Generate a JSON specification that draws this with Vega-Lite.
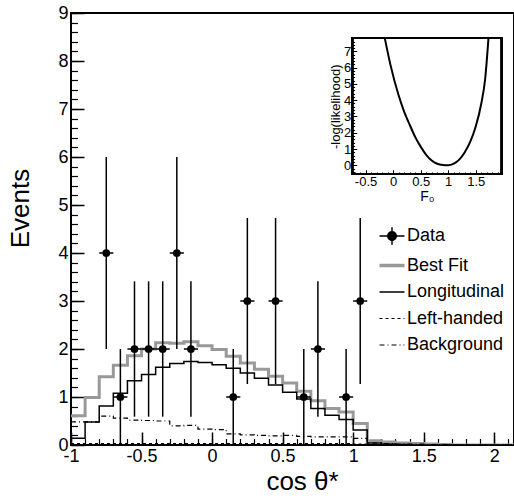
{
  "$schema": "https://vega.github.io/schema/vega-lite/v6.json",
  "width": 443,
  "height": 432,
  "autosize": "none",
  "padding": {"left": 71, "top": 13, "right": 0, "bottom": 54},
  "config": {
    "font": "Liberation Sans",
    "view": {"stroke": "black", "strokeWidth": 2},
    "axis": {"grid": false, "domain": false, "labelFlush": false, "labelFont": "Liberation Sans", "titleFont": "Liberation Sans", "labelColor": "black", "titleColor": "black", "tickColor": "black", "titleFontWeight": "normal"},
    "legend": {"labelFont": "Liberation Sans", "labelColor": "black"}
  },
  "datasets": {
    "hist": [
      {"x": -1.0, "best": 0.61, "longi": 0.14, "left": 0.03, "bkg": 0.48},
      {"x": -0.9, "best": 0.99, "longi": 0.48, "left": 0.03, "bkg": 0.48},
      {"x": -0.8, "best": 1.42, "longi": 0.81, "left": 0.03, "bkg": 0.60},
      {"x": -0.7, "best": 1.66, "longi": 1.08, "left": 0.03, "bkg": 0.56},
      {"x": -0.6, "best": 1.86, "longi": 1.34, "left": 0.03, "bkg": 0.52},
      {"x": -0.5, "best": 2.00, "longi": 1.47, "left": 0.03, "bkg": 0.51},
      {"x": -0.4, "best": 2.13, "longi": 1.62, "left": 0.03, "bkg": 0.50},
      {"x": -0.3, "best": 2.12, "longi": 1.70, "left": 0.03, "bkg": 0.40},
      {"x": -0.2, "best": 2.15, "longi": 1.74, "left": 0.03, "bkg": 0.41},
      {"x": -0.1, "best": 2.07, "longi": 1.72, "left": 0.03, "bkg": 0.33},
      {"x": 0.0, "best": 1.99, "longi": 1.67, "left": 0.03, "bkg": 0.32},
      {"x": 0.1, "best": 1.85, "longi": 1.60, "left": 0.03, "bkg": 0.23},
      {"x": 0.2, "best": 1.71, "longi": 1.50, "left": 0.03, "bkg": 0.21},
      {"x": 0.3, "best": 1.58, "longi": 1.39, "left": 0.03, "bkg": 0.20},
      {"x": 0.4, "best": 1.43, "longi": 1.25, "left": 0.03, "bkg": 0.19},
      {"x": 0.5, "best": 1.29, "longi": 1.10, "left": 0.03, "bkg": 0.20},
      {"x": 0.6, "best": 1.12, "longi": 0.96, "left": 0.03, "bkg": 0.18},
      {"x": 0.7, "best": 0.92, "longi": 0.76, "left": 0.03, "bkg": 0.17},
      {"x": 0.8, "best": 0.76, "longi": 0.62, "left": 0.03, "bkg": 0.17},
      {"x": 0.9, "best": 0.69, "longi": 0.53, "left": 0.03, "bkg": 0.17},
      {"x": 1.0, "best": 0.45, "longi": 0.31, "left": 0.02, "bkg": 0.14},
      {"x": 1.1, "best": 0.09, "longi": 0.04, "left": 0.01, "bkg": 0.04},
      {"x": 1.2, "best": 0.06, "longi": 0.02, "left": 0, "bkg": 0.03},
      {"x": 1.3, "best": 0.04, "longi": 0.01, "left": 0, "bkg": 0.02},
      {"x": 1.4, "best": 0.03, "longi": 0, "left": 0, "bkg": 0.02},
      {"x": 1.5, "best": 0.02, "longi": 0, "left": 0, "bkg": 0.01},
      {"x": 1.6, "best": 0.01, "longi": 0, "left": 0, "bkg": 0.01},
      {"x": 1.7, "best": 0, "longi": 0, "left": 0, "bkg": 0},
      {"x": 1.8, "best": 0, "longi": 0, "left": 0, "bkg": 0},
      {"x": 1.9, "best": 0, "longi": 0, "left": 0, "bkg": 0},
      {"x": 2.0, "best": 0, "longi": 0, "left": 0, "bkg": 0},
      {"x": 2.1, "best": 0, "longi": 0, "left": 0, "bkg": 0},
      {"x": 2.2, "best": 0, "longi": 0, "left": 0, "bkg": 0}
    ],
    "pts": [
      {"x": -0.75, "n": 4, "lo": 2, "hi": 6, "x0": -0.8, "x1": -0.7, "s": "data"},
      {"x": -0.65, "n": 1, "lo": 0, "hi": 2, "x0": -0.7, "x1": -0.6, "s": "data"},
      {"x": -0.55, "n": 2, "lo": 0.59, "hi": 3.41, "x0": -0.6, "x1": -0.5, "s": "data"},
      {"x": -0.45, "n": 2, "lo": 0.59, "hi": 3.41, "x0": -0.5, "x1": -0.4, "s": "data"},
      {"x": -0.35, "n": 2, "lo": 0.59, "hi": 3.41, "x0": -0.4, "x1": -0.3, "s": "data"},
      {"x": -0.25, "n": 4, "lo": 2, "hi": 6, "x0": -0.3, "x1": -0.2, "s": "data"},
      {"x": -0.15, "n": 2, "lo": 0.59, "hi": 3.41, "x0": -0.2, "x1": -0.1, "s": "data"},
      {"x": 0.15, "n": 1, "lo": 0, "hi": 2, "x0": 0.1, "x1": 0.2, "s": "data"},
      {"x": 0.25, "n": 3, "lo": 1.27, "hi": 4.73, "x0": 0.2, "x1": 0.3, "s": "data"},
      {"x": 0.45, "n": 3, "lo": 1.27, "hi": 4.73, "x0": 0.4, "x1": 0.5, "s": "data"},
      {"x": 0.65, "n": 1, "lo": 0, "hi": 2, "x0": 0.6, "x1": 0.7, "s": "data"},
      {"x": 0.75, "n": 2, "lo": 0.59, "hi": 3.41, "x0": 0.7, "x1": 0.8, "s": "data"},
      {"x": 0.95, "n": 1, "lo": 0, "hi": 2, "x0": 0.9, "x1": 1.0, "s": "data"},
      {"x": 1.05, "n": 3, "lo": 1.27, "hi": 4.73, "x0": 1.0, "x1": 1.1, "s": "data"}
    ],
    "nll": [
      {"f": -0.15, "v": 7.8},
      {"f": -0.05, "v": 6.2},
      {"f": 0.1, "v": 4.3},
      {"f": 0.2, "v": 3.3},
      {"f": 0.3, "v": 2.5},
      {"f": 0.4, "v": 1.75},
      {"f": 0.5, "v": 1.15},
      {"f": 0.6, "v": 0.65},
      {"f": 0.7, "v": 0.3},
      {"f": 0.8, "v": 0.1},
      {"f": 0.9, "v": 0.02},
      {"f": 1.0, "v": 0},
      {"f": 1.1, "v": 0.1},
      {"f": 1.2, "v": 0.35},
      {"f": 1.3, "v": 0.8},
      {"f": 1.4, "v": 1.45},
      {"f": 1.5, "v": 2.4},
      {"f": 1.6, "v": 3.8},
      {"f": 1.67, "v": 5.3},
      {"f": 1.73, "v": 7.8}
    ]
  },
  "layer": [
    {
      "layer": [
        {
          "data": {"name": "hist"},
          "transform": [{"fold": ["best", "longi", "left", "bkg"], "as": ["s", "v"]}],
          "mark": {"type": "line", "interpolate": "step-after", "clip": true},
          "encoding": {
            "x": {"field": "x", "type": "quantitative", "scale": {"domain": [-1, 2.14], "nice": false, "zero": false},
              "axis": {"orient": "bottom", "values": [-1, -0.5, 0, 0.5, 1, 1.5, 2], "tickSize": -13, "tickWidth": 1.5, "labelPadding": 15, "labelFontSize": 18, "labelExpr": "datum.value < 0 ? '-' + format(-datum.value, '~g') : format(datum.value, '~g')", "title": "cos θ*", "titleFontSize": 26, "titleBaseline": "middle", "titleY": 36, "titleX": 231}},
            "y": {"field": "v", "type": "quantitative", "scale": {"domain": [0, 9], "nice": false},
              "axis": {"orient": "left", "values": [0, 1, 2, 3, 4, 5, 6, 7, 8, 9], "tickSize": -13, "tickWidth": 1.5, "labelPadding": 16, "labelFontSize": 18, "title": "Events", "titleFontSize": 26, "titleX": -51, "titleY": 195, "titleBaseline": "middle"}},
            "detail": {"field": "s"},
            "color": {"field": "s", "type": "nominal",
              "scale": {"domain": ["data", "best", "longi", "left", "bkg"], "range": ["black", "#999999", "black", "black", "black"]},
              "legend": {"orient": "none", "legendX": 312, "legendY": 214, "title": null, "symbolType": "stroke", "symbolSize": 625, "labelFontSize": 18, "labelOffset": 6, "rowPadding": 8.5,
                "labelExpr": "datum.value === 'data' ? 'Data' : datum.value === 'best' ? 'Best Fit' : datum.value === 'longi' ? 'Longitudinal' : datum.value === 'left' ? 'Left-handed' : 'Background'",
                "encode": {"symbols": {"update": {
                  "shape": {"signal": "datum.value === 'data' ? 'M-1,0L1,0M0,-0.7L0,0.7M-0.34,0A0.34,0.34,0,1,0,0.34,0A0.34,0.34,0,1,0,-0.34,0Z' : 'stroke'"},
                  "fill": {"signal": "datum.value === 'data' ? 'black' : 'transparent'"},
                  "strokeWidth": {"signal": "datum.value === 'best' ? 3.5 : datum.value === 'left' || datum.value === 'bkg' ? 1.2 : 1.5"}
                }}}}},
            "strokeDash": {"field": "s", "type": "nominal",
              "scale": {"domain": ["data", "best", "longi", "left", "bkg"], "range": [[1, 0], [1, 0], [1, 0], [3, 3], [5, 3, 1, 3]]}},
            "strokeWidth": {"condition": [{"test": "datum.s === 'best'", "value": 3}, {"test": "datum.s === 'longi'", "value": 1.5}], "value": 1.2}
          }
        },
        {
          "data": {"name": "pts"},
          "mark": {"type": "rule", "color": "black", "strokeWidth": 1.5},
          "encoding": {"x": {"field": "x", "type": "quantitative"}, "y": {"field": "lo", "type": "quantitative"}, "y2": {"field": "hi"}}
        },
        {
          "data": {"name": "pts"},
          "mark": {"type": "rule", "color": "black", "strokeWidth": 1.5},
          "encoding": {"x": {"field": "x0", "type": "quantitative"}, "x2": {"field": "x1"}, "y": {"field": "n", "type": "quantitative"}}
        },
        {
          "data": {"name": "pts"},
          "mark": {"type": "circle", "opacity": 1, "size": 60},
          "encoding": {"x": {"field": "x", "type": "quantitative"}, "y": {"field": "n", "type": "quantitative"}, "color": {"field": "s", "type": "nominal"}}
        }
      ]
    },
    {
      "data": {"name": "pts"},
      "mark": {"type": "point", "opacity": 0},
      "encoding": {
        "x": {"field": "x", "type": "quantitative", "scale": {"domain": [-1, 2.14], "nice": false, "zero": false},
          "axis": {"orient": "bottom", "labels": false, "title": null, "tickSize": -6.5, "tickWidth": 1.2,
            "values": [-1, -0.9, -0.8, -0.7, -0.6, -0.5, -0.4, -0.3, -0.2, -0.1, 0, 0.1, 0.2, 0.3, 0.4, 0.5, 0.6, 0.7, 0.8, 0.9, 1, 1.1, 1.2, 1.3, 1.4, 1.5, 1.6, 1.7, 1.8, 1.9, 2, 2.1]}},
        "y": {"field": "n", "type": "quantitative", "scale": {"domain": [0, 9], "nice": false},
          "axis": {"orient": "left", "labels": false, "title": null, "tickSize": -6.5, "tickWidth": 1.2,
            "values": [0, 0.2, 0.4, 0.6, 0.8, 1, 1.2, 1.4, 1.6, 1.8, 2, 2.2, 2.4, 2.6, 2.8, 3, 3.2, 3.4, 3.6, 3.8, 4, 4.2, 4.4, 4.6, 4.8, 5, 5.2, 5.4, 5.6, 5.8, 6, 6.2, 6.4, 6.6, 6.8, 7, 7.2, 7.4, 7.6, 7.8, 8, 8.2, 8.4, 8.6, 8.8, 9]}}
      }
    },
    {
      "data": {"name": "nll"},
      "layer": [
        {
          "mark": {"type": "line", "interpolate": "monotone", "color": "black", "strokeWidth": 2},
          "encoding": {
            "x": {"field": "f", "type": "quantitative", "scale": {"domain": [-0.74, 1.97], "range": [281.3, 430.7], "nice": false, "zero": false},
              "axis": {"orient": "bottom", "offset": -270.7, "values": [-0.5, 0, 0.5, 1, 1.5], "tickSize": -4.5, "labelPadding": 6, "labelFontSize": 13, "labelExpr": "datum.value < 0 ? '-' + format(-datum.value, '~g') : format(datum.value, '~g')", "title": "F₀", "titleFontSize": 14, "titlePadding": 1}},
            "y": {"field": "v", "type": "quantitative", "scale": {"domain": [-0.55, 7.8], "range": [161.3, 25.3], "nice": false, "zero": false},
              "axis": {"orient": "left", "offset": -281.3, "values": [0, 1, 2, 3, 4, 5, 6, 7], "tickSize": -4.5, "labelPadding": 6, "labelFontSize": 13, "title": "-log(likelihood)", "titleFontSize": 13, "titlePadding": 1}}
          }
        },
        {
          "mark": {"type": "rect", "fill": null, "stroke": "black", "strokeWidth": 1.6},
          "encoding": {
            "x": {"datum": -0.74, "type": "quantitative"},
            "x2": {"datum": 1.97},
            "y": {"datum": -0.55, "type": "quantitative"},
            "y2": {"datum": 7.8}
          }
        }
      ]
    },
    {
      "data": {"name": "nll"},
      "mark": {"type": "point", "opacity": 0},
      "encoding": {
        "x": {"field": "f", "type": "quantitative", "scale": {"domain": [-0.74, 1.97], "range": [281.3, 430.7], "nice": false, "zero": false},
          "axis": {"orient": "bottom", "offset": -270.7, "labels": false, "title": null, "tickSize": -2.3,
            "values": [-0.7, -0.6, -0.5, -0.4, -0.3, -0.2, -0.1, 0, 0.1, 0.2, 0.3, 0.4, 0.5, 0.6, 0.7, 0.8, 0.9, 1, 1.1, 1.2, 1.3, 1.4, 1.5, 1.6, 1.7, 1.8, 1.9]}},
        "y": {"field": "v", "type": "quantitative", "scale": {"domain": [-0.55, 7.8], "range": [161.3, 25.3], "nice": false, "zero": false},
          "axis": {"orient": "left", "offset": -281.3, "labels": false, "title": null, "tickSize": -2.3,
            "values": [-0.4, -0.2, 0, 0.2, 0.4, 0.6, 0.8, 1, 1.2, 1.4, 1.6, 1.8, 2, 2.2, 2.4, 2.6, 2.8, 3, 3.2, 3.4, 3.6, 3.8, 4, 4.2, 4.4, 4.6, 4.8, 5, 5.2, 5.4, 5.6, 5.8, 6, 6.2, 6.4, 6.6, 6.8, 7, 7.2, 7.4, 7.6]}}
      }
    }
  ],
  "resolve": {"scale": {"x": "independent", "y": "independent"}}
}
